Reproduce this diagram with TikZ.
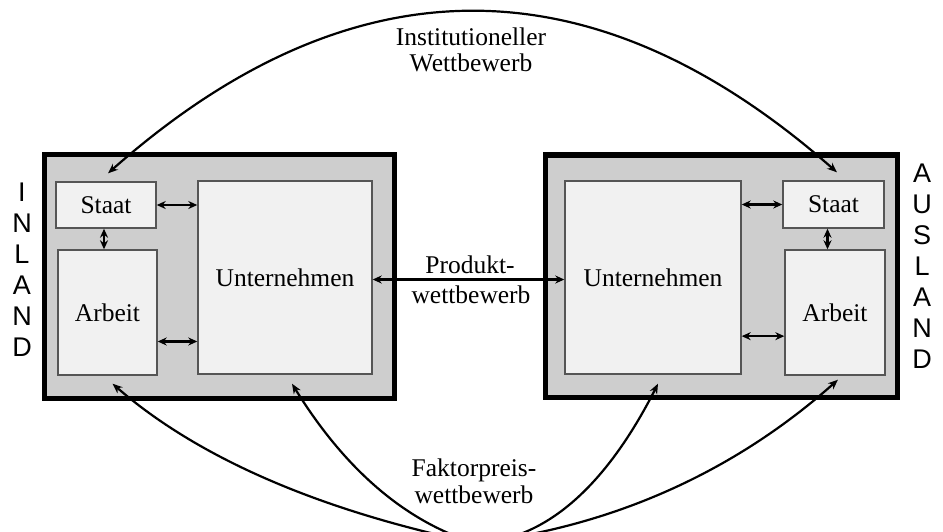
\documentclass[tikz,border=0pt]{standalone}
\usepackage{fontspec}
\setmainfont{Liberation Serif}
\newfontfamily\lsans{Liberation Sans}
\usetikzlibrary{arrows.meta}
\definecolor{outergray}{RGB}{206,206,206}
\definecolor{innergray}{RGB}{241,241,241}
\definecolor{edgegray}{RGB}{85,85,85}
\begin{document}
\begin{tikzpicture}[x=1pt,y=-1pt,
  outerbox/.style={draw=black,line width=5.5pt,fill=outergray,inner sep=0pt},
  inbox/.style={draw=edgegray,line width=1.4pt,fill=innergray,inner sep=0pt,
    font=\fontsize{25.5}{30}\selectfont},
  lbl/.style={inner sep=0pt,anchor=base,font=\fontsize{25.5}{30}\selectfont},
  side/.style={inner sep=0pt,align=center,font=\lsans\fontsize{27}{31}\selectfont},
  dbl/.style={{Stealth[length=9pt,width=8pt]}-{Stealth[length=9pt,width=8pt]},line width=2.1pt},
  arc/.style={{Stealth[length=10pt,width=8pt]}-{Stealth[length=10pt,width=8pt]},line width=2.2pt},
  one/.style={-{Stealth[length=10pt,width=8pt]},line width=2.2pt}]
\useasboundingbox (0,0) rectangle (943,531);
\clip (0,0) rectangle (943,531);
\fill[white] (0,0) rectangle (943,531);

% outer country boxes
\node[outerbox,minimum width=350pt,minimum height=244pt] (inl) at (219.5,276.5) {};
\node[outerbox,minimum width=352pt,minimum height=242.5pt] (ausl) at (721.5,276.25) {};

% inner boxes, Inland
\node[inbox,minimum width=100pt,minimum height=46pt] (staatL) at (106,205) {Staat};
\node[inbox,minimum width=99pt,minimum height=125pt] (arbL) at (107.5,312.5) {Arbeit};
\node[inbox,minimum width=174pt,minimum height=193pt] (untL) at (285,277.5) {Unternehmen};

% inner boxes, Ausland
\node[inbox,minimum width=176pt,minimum height=193pt] (untR) at (653,277.5) {Unternehmen};
\node[inbox,minimum width=101pt,minimum height=47pt] (staatR) at (833.5,204.5) {Staat};
\node[inbox,minimum width=100pt,minimum height=125pt] (arbR) at (835,312.5) {Arbeit};

% side labels
\node[side] (inland) at (22,269.5) {I\\N\\L\\A\\N\\D};
\node[side] (ausland) at (922,266.5) {A\\U\\S\\L\\A\\N\\D};

% inner arrows
\draw[dbl] (staatL.east) -- (staatL.east -| untL.west);
\draw[dbl] ([xshift=-2pt]staatL.south) -- ([xshift=-2pt]staatL.south |- arbL.north);
\draw[dbl] (arbL.-30) -- (arbL.-30 -| untL.west);
\draw[dbl] (untR.east |- staatR.west) -- (staatR.west);
\draw[dbl] ([xshift=-6pt]staatR.south) -- ([xshift=-6pt]staatR.south |- arbR.north);
\draw[dbl] (untR.east |- arbR.205) -- (arbR.205);

% product competition
\draw[dbl] ([yshift=-2pt]untL.east) -- ([yshift=-2pt]untR.west);
\node[lbl] (prod1) at (470,273) {Produkt-};
\node[lbl] (prod2) at (471,303) {wettbewerb};

% institutional competition
\draw[arc] ([xshift=2pt,yshift=8pt]staatL.north) .. controls (351.5,-42) and (593.5,-42) .. ([xshift=3.5pt,yshift=8pt]staatR.north);
\node[lbl] (inst1) at (471,45) {Institutioneller};
\node[lbl] (inst2) at (471,71) {Wettbewerb};

% factor price competition
\coordinate (F) at (475,543);
\draw[one] (F) .. controls (317,510) and (197,457) .. ([xshift=5pt,yshift=-8pt]arbL.south);
\draw[one] (F) .. controls (404,521) and (344,468) .. ([xshift=7pt,yshift=-9pt]untL.south);
\draw[one] (F) .. controls (544,541) and (605,488) .. ([xshift=5pt,yshift=-9pt]untR.south);
\draw[one] (F) .. controls (611,527) and (733,473) .. ([xshift=3pt,yshift=-4pt]arbR.south);
\node[lbl] (fak1) at (474,476) {Faktorpreis-};
\node[lbl] (fak2) at (474,503) {wettbewerb};
\end{tikzpicture}
\end{document}
